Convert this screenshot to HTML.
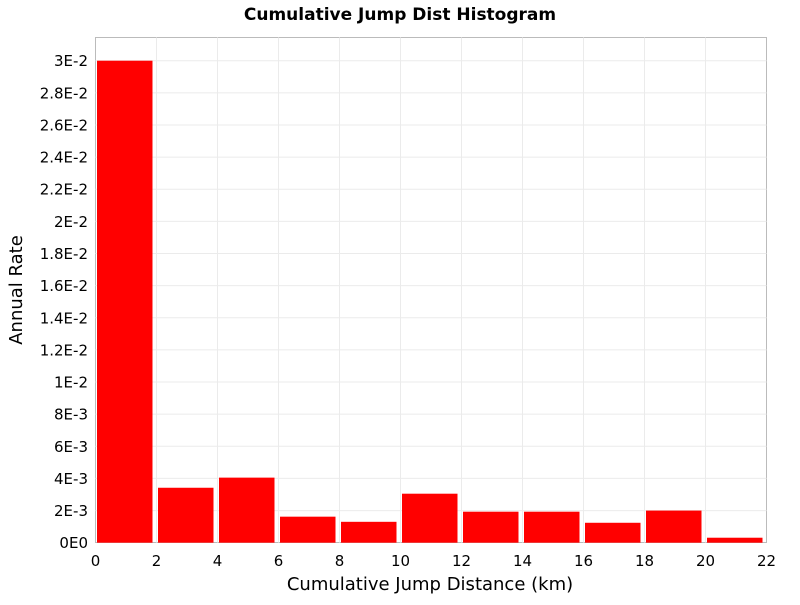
<!DOCTYPE html>
<html><head><meta charset="utf-8"><style>
body{margin:0;background:#fff}
text{font-family:"DejaVu Sans","Liberation Sans",sans-serif}
</style></head><body>
<svg id="chart" width="800" height="600" xmlns="http://www.w3.org/2000/svg">
<text x="400" y="20" text-anchor="middle" font-size="17" font-weight="bold">Cumulative Jump Dist Histogram</text>
<rect x="95.5" y="37.5" width="671" height="505" fill="#fff" stroke="#bbb"/>
<g id="grid"></g><g id="bars"></g><g id="ticks"></g>
<text x="430" y="590" text-anchor="middle" font-size="18">Cumulative Jump Distance (km)</text>
<text transform="translate(22,290) rotate(-90)" text-anchor="middle" font-size="18">Annual Rate</text>
</svg>
<script>
const binStarts=[0,2,4,6,8,10,12,14,16,18,20];
const rates=[0.030,0.00342,0.00405,0.00162,0.0013,0.00305,0.00193,0.00193,0.00124,0.002,0.00031];
const xTicks=[0,2,4,6,8,10,12,14,16,18,20,22];
const yTicks=[0,0.002,0.004,0.006,0.008,0.010,0.012,0.014,0.016,0.018,0.020,0.022,0.024,0.026,0.028,0.030];
const yLabels=["0E0","2E-3","4E-3","6E-3","8E-3","1E-2","1.2E-2","1.4E-2","1.6E-2","1.8E-2","2E-2","2.2E-2","2.4E-2","2.6E-2","2.8E-2","3E-2"];
const binW=2;
const NS="http://www.w3.org/2000/svg";
const X=v=>95.5+v*30.5;
const Y=v=>542.7-v/0.03*482;
function mk(t,a,p){const e=document.createElementNS(NS,t);for(const k in a)e.setAttribute(k,a[k]);p.appendChild(e);return e;}
const g=document.getElementById('grid'),b=document.getElementById('bars'),tk=document.getElementById('ticks');
xTicks.forEach(v=>{
 if(v>0&&v<22){const l=mk('line',{x1:X(v),x2:X(v),y1:37.5,y2:542.5,stroke:'#ebebeb'},g);
 
 }
 const t=mk('text',{x:X(v),y:566,'text-anchor':'middle','font-size':15},tk);t.textContent=v;
 
 
});
yTicks.forEach((v,i)=>{
 if(v>0){const l=mk('line',{x1:95.5,x2:766.5,y1:Y(v),y2:Y(v),stroke:'#ebebeb'},g);
 
 }
 const t=mk('text',{x:88,y:Y(v)+5.5,'text-anchor':'end','font-size':15},tk);t.textContent=yLabels[i];
 
 
});
binStarts.forEach((s,i)=>{
 const x0=X(s)+1.5,x1=X(s+binW)-4;
 const r=mk('rect',{x:x0,y:Y(rates[i]),width:x1-x0,height:Y(0)-Y(rates[i]),fill:'#ff0000'},b);
 
 
});
</script>
</body></html>
